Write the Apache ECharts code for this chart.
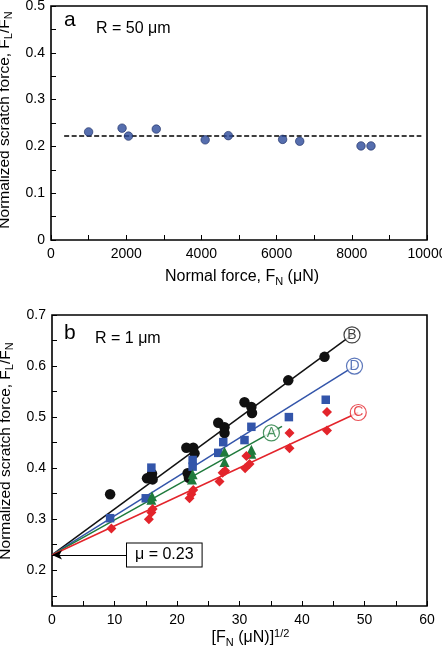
<!DOCTYPE html>
<html><head><meta charset="utf-8">
<script src="https://cdn.jsdelivr.net/npm/echarts@6/dist/echarts.min.js"></script>
<style>html,body{margin:0;padding:0;background:#fff}#c{width:442px;height:650px}</style>
</head><body><div id="c"></div>
<script>
// ---- Panel a data ----
const topX = [1000, 1890, 2060, 2800, 4100, 4715, 6160, 6615, 8245, 8510];
const topY = [0.231, 0.239, 0.222, 0.237, 0.214, 0.223, 0.215, 0.211, 0.201, 0.201];
const topMean = 0.222;
const topMeanFrom = 350;
const topMeanTo = 9850;
const topXLabels = [0, 2000, 4000, 6000, 8000, 10000];
const topXTicks = [0, 1000, 2000, 3000, 4000, 5000, 6000, 7000, 8000, 9000, 10000];
const topYLabels = [0, 0.1, 0.2, 0.3, 0.4, 0.5];
const topYTicks = [0, 0.05, 0.1, 0.15, 0.2, 0.25, 0.3, 0.35, 0.4, 0.45, 0.5];

// ---- Panel b data ----
const ptsB = [[9.3,0.349],[15.2,0.380],[16.0,0.389],[16.1,0.378],[21.5,0.440],[22.6,0.440],[22.8,0.429],[21.7,0.390],[21.9,0.381],[26.6,0.489],[27.6,0.480],[27.6,0.469],[30.8,0.529],[31.9,0.520],[32.0,0.508],[37.8,0.572],[43.6,0.618]];
const ptsD = [[9.3,0.302],[15.0,0.341],[15.9,0.401],[22.5,0.416],[22.5,0.403],[26.6,0.430],[27.4,0.451],[30.8,0.455],[31.9,0.481],[37.9,0.500],[43.8,0.534]];
const ptsA = [[16.0,0.345],[15.9,0.338],[22.5,0.388],[22.4,0.378],[27.6,0.432],[27.6,0.412],[31.9,0.436],[31.9,0.428]];
const ptsC = [[9.5,0.282],[15.5,0.300],[15.9,0.313],[16.1,0.320],[22.0,0.341],[22.3,0.349],[22.6,0.357],[26.8,0.374],[27.3,0.391],[27.7,0.395],[30.9,0.400],[31.6,0.408],[31.1,0.424],[38.0,0.469],[38.0,0.439],[44.0,0.510],[44.0,0.474]];
const fitStart = [0, 0.23];
const fitEndB = [48.0, 0.661];
const fitEndD = [48.4, 0.600];
const fitEndC = [49.0, 0.509];
const fitEndA = [36.8, 0.482];
const labelA = [35.1, 0.469];
const muValue = 0.23;
const muArrowFrom = 12.0;
const botXLabels = [0, 10, 20, 30, 40, 50, 60];
const botXTicks = [0, 5, 10, 15, 20, 25, 30, 35, 40, 45, 50, 55, 60];
const botYLabels = [0.2, 0.3, 0.4, 0.5, 0.6, 0.7];
const botYTicks = [0.15, 0.2, 0.25, 0.3, 0.35, 0.4, 0.45, 0.5, 0.55, 0.6, 0.65, 0.7];

const FONT = 'Liberation Sans, Arial, Helvetica, sans-serif';
const BLACK = '#111', BLUE = '#3355aa', GREEN = '#1f7a3c', RED = '#e3242b', DOT = '#2c4a9a';
const rich = {
  sub: {fontSize: 11, lineHeight: 11, verticalAlign: 'bottom', fontFamily: FONT, color: '#000'},
  sup: {fontSize: 11, lineHeight: 11, verticalAlign: 'top', fontFamily: FONT, color: '#000'}
};
const nameStyle = {fontSize: 16, fontFamily: FONT, color: '#000', lineHeight: 20, rich: rich};
const lblFmt = v => v === 0 ? '0' : (Math.abs(v) < 1 ? v.toFixed(1) : String(v));

function xAx(gi, min, max, labels, ticks, name, gap, pad) {
  return {type: 'value', gridIndex: gi, min: min, max: max,
    axisLine: {show: false, onZero: false}, splitLine: {show: false},
    axisTick: {show: true, inside: true, length: 5, customValues: ticks, lineStyle: {color: '#000', width: 1}},
    axisLabel: {customValues: labels, margin: 7, fontSize: 14, fontFamily: FONT, color: '#000', formatter: v => String(v)},
    name: name, nameLocation: 'middle', nameGap: gap, nameTextStyle: Object.assign({}, nameStyle, {padding: pad})};
}
function yAx(gi, min, max, labels, ticks, name, gap, pad) {
  return {type: 'value', gridIndex: gi, min: min, max: max,
    axisLine: {show: false, onZero: false}, splitLine: {show: false},
    axisTick: {show: true, inside: true, length: 5, customValues: ticks, lineStyle: {color: '#000', width: 1}},
    axisLabel: {customValues: labels, margin: 6, fontSize: 14, fontFamily: FONT, color: '#000', formatter: lblFmt},
    name: name, nameLocation: 'middle', nameRotate: 90, nameGap: gap,
    nameTextStyle: Object.assign({}, nameStyle, {fontSize: 15.5, padding: pad})};
}

function fitLine(end, color) {
  return {type: 'line', xAxisIndex: 1, yAxisIndex: 1, data: [fitStart, end], symbol: 'none',
    lineStyle: {color: color, width: 1.5}, z: 2, silent: true};
}
function scat(data, symbol, size, color) {
  return {type: 'scatter', xAxisIndex: 1, yAxisIndex: 1, data: data, symbol: symbol, symbolSize: size,
    itemStyle: {color: color, opacity: 1}, z: 3};
}
function circLabel(pos, letter, color) {
  return {type: 'scatter', xAxisIndex: 1, yAxisIndex: 1, data: [pos], symbol: 'circle', symbolSize: 16,
    itemStyle: {color: '#fff', borderColor: color, borderWidth: 1.2},
    label: {show: true, position: 'inside', formatter: letter, color: color, fontSize: 14, fontFamily: FONT},
    z: 5, silent: true};
}

const chart = echarts.init(document.getElementById('c'), null, {renderer: 'canvas'});
chart.setOption({
  animation: false,
  backgroundColor: '#fff',
  grid: [
    {left: 51, top: 6, width: 376, height: 234, show: true, borderColor: '#000', borderWidth: 1.6, containLabel: false, outerBoundsMode: 'none'},
    {left: 52, top: 315, width: 375, height: 291, show: true, borderColor: '#000', borderWidth: 1.6, containLabel: false, outerBoundsMode: 'none'}
  ],
  xAxis: [
    xAx(0, 0, 10000, topXLabels, topXTicks, 'Normal force, F{sub|N} (μN)', 27, [0, 0, 0, 6]),
    xAx(1, 0, 60, botXLabels, botXTicks, '[F{sub|N} (μN)]{sup|1/2}', 22, [0, 0, 0, 22])
  ],
  yAxis: [
    yAx(0, 0, 0.5, topYLabels, topYTicks, 'Normalized scratch force, F{sub|L}/F{sub|N}', 33, [0, 0, 0, 6]),
    yAx(1, 0.13, 0.7, botYLabels, botYTicks, 'Normalized scratch force, F{sub|L}/F{sub|N}', 33, [0, 0, 0, 19])
  ],
  graphic: [
    {type: 'text', left: 64, top: 10, style: {text: 'a', font: '21px ' + FONT, fill: '#000'}},
    {type: 'text', left: 96, top: 21, style: {text: 'R = 50 μm', font: '16px ' + FONT, fill: '#000'}},
    {type: 'text', left: 64, top: 323, style: {text: 'b', font: '21px ' + FONT, fill: '#000'}},
    {type: 'text', left: 95, top: 331, style: {text: 'R = 1 μm', font: '16px ' + FONT, fill: '#000'}}
  ],
  series: [
    {type: 'line', xAxisIndex: 0, yAxisIndex: 0, data: [[topMeanFrom, topMean], [topMeanTo, topMean]], symbol: 'none',
      lineStyle: {color: '#000', width: 1.5, type: [5, 2.5]}, z: 2},
    {type: 'scatter', xAxisIndex: 0, yAxisIndex: 0, data: topX.map((x, i) => [x, topY[i]]), symbol: 'circle', symbolSize: 8.5,
      itemStyle: {color: DOT, borderColor: '#1b2c63', borderWidth: 0.8}, z: 3},
    fitLine(fitEndB, BLACK),
    fitLine(fitEndD, BLUE),
    fitLine(fitEndA, GREEN),
    fitLine(fitEndC, RED),
    scat(ptsB, 'circle', 10.5, BLACK),
    scat(ptsD, 'rect', 8.5, BLUE),
    scat(ptsA, 'triangle', 10, GREEN),
    scat(ptsC, 'diamond', 10, RED),
    circLabel(fitEndB, 'B', BLACK),
    circLabel(fitEndD, 'D', BLUE),
    circLabel(labelA, 'A', GREEN),
    circLabel(fitEndC, 'C', RED),
    {type: 'line', xAxisIndex: 1, yAxisIndex: 1, data: [], z: 6,
      markLine: {silent: true, symbol: ['none', 'arrow'], symbolSize: [7, 10],
        lineStyle: {color: '#000', width: 1, type: 'solid'},
        label: {show: true, position: 'start', distance: 0, formatter: 'μ = ' + muValue.toFixed(2),
          color: '#000', fontSize: 16, fontFamily: FONT, backgroundColor: '#fff', borderColor: '#000', borderWidth: 1,
          padding: [4, 8, 3, 8]},
        data: [[{coord: [muArrowFrom, muValue]}, {coord: [0, muValue]}]]}}
  ]
});
</script></body></html>
